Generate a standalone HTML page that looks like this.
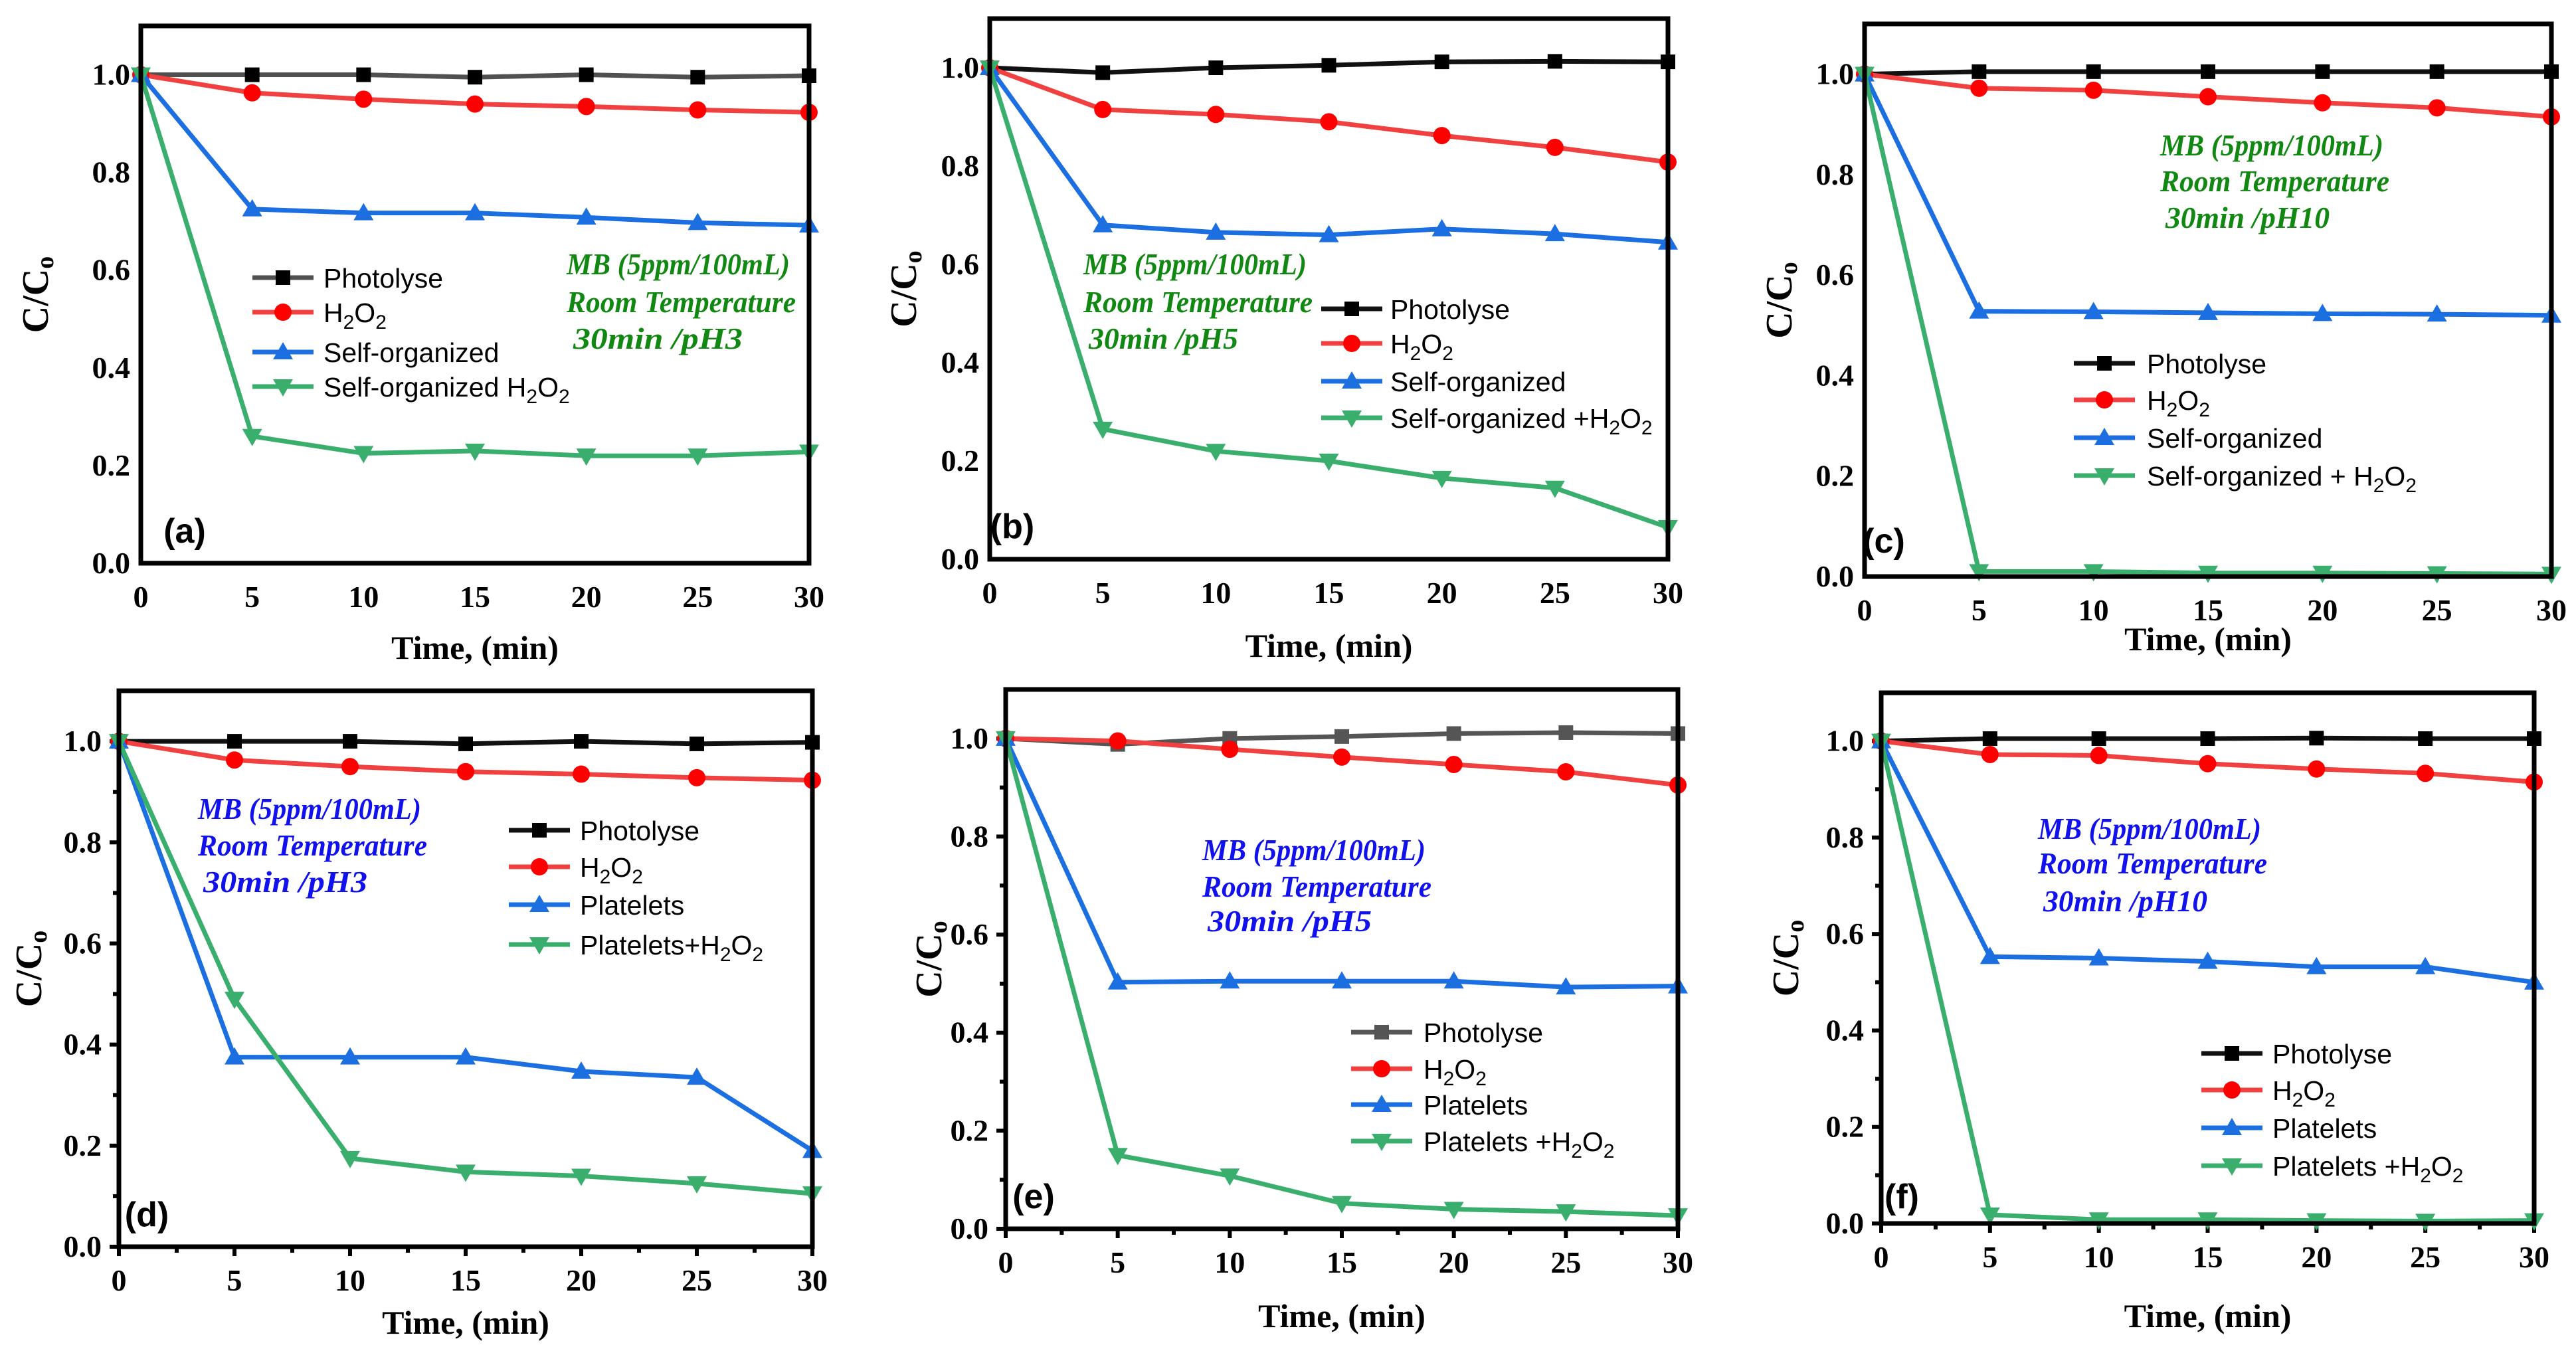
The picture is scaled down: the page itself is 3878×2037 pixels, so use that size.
<!DOCTYPE html>
<html><head><meta charset="utf-8"><style>
html,body{margin:0;padding:0;background:#fff}
svg{display:block}
.tk{font-family:"Liberation Serif",serif;font-weight:bold;font-size:46px;fill:#000}
.at{font-family:"Liberation Serif",serif;font-weight:bold;font-size:50px;fill:#000}
.lg{font-family:"Liberation Sans",sans-serif;font-size:41px;fill:#000}
.an{font-family:"Liberation Serif",serif;font-weight:bold;font-style:italic;font-size:46px}
.pl{font-family:"Liberation Sans",sans-serif;font-weight:bold;font-size:52px;fill:#000}
</style></head><body>
<svg id="fig" xmlns="http://www.w3.org/2000/svg" width="3878" height="2037" viewBox="0 0 3878 2037"></svg>
<script>
const times = [0,5,10,15,20,25,30];
const xTicks = [0,5,10,15,20,25,30];
const yTicks = [0.0,0.2,0.4,0.6,0.8,1.0];
const yTickLabels = ["0.0","0.2","0.4","0.6","0.8","1.0"];

const aPhoto = [1,1,1,0.995,1,0.995,0.998];
const aH2O2 = [1,0.963,0.95,0.94,0.935,0.928,0.923];
const aCat = [1,0.725,0.717,0.717,0.708,0.697,0.692];
const aCatH = [1,0.26,0.225,0.23,0.22,0.22,0.228];

const bPhoto = [1,0.99,1.0,1.005,1.012,1.013,1.012];
const bH2O2 = [1,0.915,0.905,0.89,0.862,0.838,0.808];
const bCat = [1,0.68,0.665,0.66,0.672,0.662,0.645];
const bCatH = [1,0.265,0.22,0.2,0.165,0.145,0.065];

const cPhoto = [1,1.005,1.005,1.005,1.005,1.005,1.005];
const cH2O2 = [1,0.972,0.968,0.955,0.943,0.933,0.915];
const cCat = [1,0.528,0.527,0.525,0.523,0.522,0.52];
const cCatH = [1,0.01,0.01,0.007,0.007,0.006,0.005];

const dPhoto = [1,1,1,0.995,1,0.995,0.998];
const dH2O2 = [1,0.963,0.95,0.94,0.935,0.928,0.923];
const dCat = [1,0.375,0.375,0.375,0.347,0.335,0.19];
const dCatH = [1,0.49,0.175,0.148,0.14,0.125,0.105];

const ePhoto = [1,0.988,1.0,1.004,1.01,1.012,1.01];
const eH2O2 = [1,0.995,0.978,0.962,0.947,0.932,0.905];
const eCat = [1,0.503,0.505,0.505,0.505,0.493,0.495];
const eCatH = [1,0.15,0.108,0.052,0.04,0.035,0.027];

const fPhoto = [1,1.005,1.005,1.005,1.006,1.005,1.005];
const fH2O2 = [1,0.972,0.97,0.953,0.942,0.933,0.915];
const fCat = [1,0.553,0.55,0.543,0.532,0.532,0.5];
const fCatH = [1,0.018,0.008,0.008,0.006,0.005,0.006];

const NS="http://www.w3.org/2000/svg";
const svg=document.getElementById('fig');
function mk(tag,attrs,parent){const e=document.createElementNS(NS,tag);for(const k in attrs)e.setAttribute(k,attrs[k]);(parent||svg).appendChild(e);return e;}

const panels=[
 {id:'a',L:212,R:1218,T:39,B:848,ticks:false,photoLine:'#505050',photoMk:'#000',series:[aPhoto,aH2O2,aCat,aCatH],
  leg:{x1:380,x2:472,tx:487,ys:[418,470,530,582]},names:['Photolyse','H2O2','Self-organized','Self-organized H2O2'],
  ann:{x:853,ys:[398,455,510],dx:[0,0,10],color:'#118811',w:[336,345,255]},lab:[278,798],xt:975,ytx:55},
 {id:'b',L:1490,R:2511,T:28,B:842,ticks:false,photoLine:'#111',photoMk:'#000',series:[bPhoto,bH2O2,bCat,bCatH],
  leg:{x1:1989,x2:2081,tx:2093,ys:[465,517,574,629]},names:['Photolyse','H2O2','Self-organized','Self-organized +H2O2'],
  ann:{x:1631,ys:[398,455,510],dx:[0,0,8],color:'#118811',w:[336,345,225]},lab:[1524,791],xt:972,ytx:1362},
 {id:'c',L:2807,R:3841,T:36,B:868,ticks:false,photoLine:'#111',photoMk:'#000',series:[cPhoto,cH2O2,cCat,cCatH],
  leg:{x1:3122,x2:3214,tx:3232,ys:[547,602,659,716]},names:['Photolyse','H2O2','Self-organized',' Self-organized + H2O2'],
  ann:{x:3252,ys:[219,273,328],dx:[0,0,8],color:'#118811',w:[336,345,247]},lab:[2836,813],xt:962,ytx:2680},
 {id:'d',L:179,R:1223,T:1040,B:1877,ticks:true,photoLine:'#111',photoMk:'#000',series:[dPhoto,dH2O2,dCat,dCatH],
  leg:{x1:766,x2:858,tx:873,ys:[1250,1305,1362,1422]},names:['Photolyse','H2O2','Platelets','Platelets+H2O2'],
  ann:{x:298,ys:[1218,1273,1328],dx:[0,0,8],color:'#1111ee',w:[336,345,247]},lab:[221,1827],xt:1991,ytx:45},
 {id:'e',L:1514,R:2526,T:1038,B:1850,ticks:true,photoLine:'#555',photoMk:'#555',series:[ePhoto,eH2O2,eCat,eCatH],
  leg:{x1:2034,x2:2126,tx:2143,ys:[1554,1609,1663,1718]},names:['Photolyse','H2O2','Platelets','Platelets +H2O2'],
  ann:{x:1810,ys:[1280,1335,1387],dx:[0,0,8],color:'#1111ee',w:[336,345,247]},lab:[1556,1800],xt:1981,ytx:1400},
 {id:'f',L:2832,R:3815,T:1043,B:1842,ticks:true,photoLine:'#111',photoMk:'#000',series:[fPhoto,fH2O2,fCat,fCatH],
  leg:{x1:3314,x2:3406,tx:3421,ys:[1586,1641,1698,1755]},names:['Photolyse','H2O2','Platelets','Platelets +H2O2'],
  ann:{x:3068,ys:[1248,1300,1357],dx:[0,0,8],color:'#1111ee',w:[336,345,247]},lab:[2863,1800],xt:1981,ytx:2690}
];
const colors=['#505050','#f04040','#1c6fe0','#3aae6c'];
const mkColors=['#000','#ff0000','#1c6fe0','#3aae6c'];

function marker(g,type,x,y,col){
  if(type===0) mk('rect',{x:x-11,y:y-11,width:22,height:22,fill:col},g);
  else if(type===1) mk('circle',{cx:x,cy:y,r:13,fill:col},g);
  else if(type===2) mk('polygon',{points:`${x},${y-15} ${x+15},${y+11} ${x-15},${y+11}`,fill:col},g);
  else mk('polygon',{points:`${x},${y+15} ${x+15},${y-11} ${x-15},${y-11}`,fill:col},g);
}
function labelText(parent,x,y,txt,cls){
  const t=mk('text',{x:x,y:y,class:cls},parent);
  const parts=txt.split(/(H2O2)/);
  parts.forEach(p=>{
    if(p==='H2O2'){
      const a=mk('tspan',{},t);a.textContent='H';
      const b=mk('tspan',{dy:10,'font-size':'30px'},t);b.textContent='2';
      const c=mk('tspan',{dy:-10},t);c.textContent='O';
      const d=mk('tspan',{dy:10,'font-size':'30px'},t);d.textContent='2';
    } else if(p.length){const s=mk('tspan',{},t);s.textContent=p;}
  });
  return t;
}

panels.forEach(p=>{
  const g=mk('g',{});
  
  
  const xs=v=>p.L+(v-0)/30*(p.R-p.L);
  const ys=v=>p.B-v/1.1*(p.B-p.T);
  if(p.ticks){
    xTicks.forEach(v=>{mk('line',{x1:xs(v),x2:xs(v),y1:p.B,y2:p.B+14,stroke:'#000','stroke-width':6},g);});
    for(let v=2.5;v<30;v+=5){mk('line',{x1:xs(v),x2:xs(v),y1:p.B,y2:p.B+9,stroke:'#000','stroke-width':6},g);}
    yTicks.forEach(v=>{mk('line',{x1:p.L-14,x2:p.L,y1:ys(v),y2:ys(v),stroke:'#000','stroke-width':6},g);});
    for(let v=0.1;v<1.05;v+=0.2){mk('line',{x1:p.L-9,x2:p.L,y1:ys(v),y2:ys(v),stroke:'#000','stroke-width':6},g);}
  }
  xTicks.forEach(v=>{const t=mk('text',{x:xs(v),y:p.B+66,'text-anchor':'middle',class:'tk'},g);t.textContent=String(v);
    
    });
  yTicks.forEach((v,i)=>{const t=mk('text',{x:p.L-(p.ticks?26:16),y:ys(v)+15,'text-anchor':'end',class:'tk'},g);t.textContent=yTickLabels[i];
    
    });
  const xt=mk('text',{x:(p.L+p.R)/2,y:p.xt+17,'text-anchor':'middle',class:'at'},g);xt.textContent='Time, (min)';
  
  
  const cy=(p.T+p.B)/2;
  const yt=mk('text',{x:0,y:0,'text-anchor':'middle',class:'at',transform:`translate(${p.ytx+17},${cy}) rotate(-90)`},g);
  
  
  const s1=mk('tspan',{'font-size':'56px'},yt);s1.textContent='C/C';
  const s2=mk('tspan',{dy:8,'font-size':'38px'},yt);s2.textContent='o';
  p.series.forEach((arr,si)=>{
    const sg=mk('g',{},g);
    
    
    const col=si===0?p.photoLine:colors[si];
    const mc=si===0?p.photoMk:mkColors[si];
    mk('polyline',{points:arr.map((v,i)=>xs(times[i])+','+ys(v)).join(' '),fill:'none',stroke:col,'stroke-width':7,'stroke-linejoin':'round'},sg);
    arr.forEach((v,i)=>marker(sg,si,xs(times[i]),ys(v),mc));
  });
  const fr=mk('rect',{x:p.L,y:p.T,width:p.R-p.L,height:p.B-p.T,fill:'none',stroke:'#000','stroke-width':7},g);
  
  
  const lg=mk('g',{},g);
  
  
  p.names.forEach((n,si)=>{
    const y=p.leg.ys[si];
    const eg=mk('g',{},lg);
    
    
    mk('line',{x1:p.leg.x1,x2:p.leg.x2,y1:y,y2:y,stroke:si===0?p.photoLine:colors[si],'stroke-width':7},eg);
    marker(eg,si,(p.leg.x1+p.leg.x2)/2,y,si===0?p.photoMk:mkColors[si]);
    const tg=mk('g',{transform:`translate(${p.leg.tx},${y+15})`},eg);
    labelText(tg,0,0,n,'lg');
  });
  const ag=mk('g',{},g);
  
  
  ['MB (5ppm/100mL)','Room Temperature','30min /pH'+{a:'3',b:'5',c:'10',d:'3',e:'5',f:'10'}[p.id]].forEach((s,i)=>{
    const t=mk('text',{x:p.ann.x+p.ann.dx[i],y:p.ann.ys[i]+15,class:'an',fill:p.ann.color,textLength:p.ann.w[i],lengthAdjust:'spacingAndGlyphs'},ag);
    t.textContent=s;
  });
  const pl=mk('text',{x:p.lab[0],y:p.lab[1]+19,'text-anchor':'middle',class:'pl'},g);
  pl.textContent='('+p.id+')';
  
  
});
</script>
</body></html>
